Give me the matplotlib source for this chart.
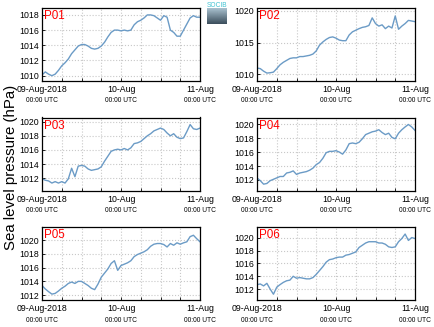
"""
Sea level pressure at six points (P01-P06), 09-Aug-2018 to 11-Aug-2018
"""
import numpy as np
import matplotlib
matplotlib.use('Agg')
import matplotlib.pyplot as plt
from matplotlib.ticker import MultipleLocator, FixedLocator

plt.rcParams['font.family'] = ['Liberation Sans', 'DejaVu Sans']

# hours since 09-Aug-2018 00:00 UTC
hours = list(range(49))

p01 = [1010.1, 1010.5, 1010.2, 1010.0, 1010.2, 1010.7, 1011.3, 1011.7, 1012.2, 1012.9,
       1013.4, 1013.9, 1014.1, 1014.1, 1013.9, 1013.6, 1013.5, 1013.6, 1013.9, 1014.4,
       1015.1, 1015.7, 1016.0, 1016.0, 1015.9, 1016.0, 1015.9, 1016.0, 1016.7, 1017.1,
       1017.3, 1017.6, 1018.0, 1018.0, 1017.9, 1017.6, 1017.3, 1017.9, 1017.7, 1016.0,
       1015.7, 1015.2, 1015.2, 1016.0, 1016.8, 1017.6, 1017.9, 1017.7, 1017.7]
p02 = [1011.0, 1010.9, 1010.5, 1010.2, 1010.25, 1010.35, 1010.9, 1011.5, 1011.9, 1012.2,
       1012.5, 1012.6, 1012.6, 1012.8, 1012.8, 1012.9, 1013.0, 1013.2, 1013.7, 1014.6,
       1015.1, 1015.5, 1015.8, 1015.9, 1015.7, 1015.4, 1015.3, 1015.3, 1016.2, 1016.7,
       1016.95, 1017.2, 1017.4, 1017.5, 1017.7, 1018.9, 1018.0, 1017.6, 1017.8, 1017.2,
       1017.6, 1017.3, 1019.2, 1017.1, 1017.6, 1018.0, 1018.5, 1018.4, 1018.3]
p03 = [1011.9, 1011.7, 1011.6, 1011.3, 1011.5, 1011.3, 1011.5, 1011.3, 1011.9, 1013.4,
       1012.2, 1013.7, 1013.8, 1013.7, 1013.3, 1013.1, 1013.2, 1013.3, 1013.6, 1014.4,
       1015.1, 1015.8, 1016.0, 1016.1, 1016.0, 1016.2, 1016.0, 1016.3, 1016.9, 1017.0,
       1017.2, 1017.6, 1018.0, 1018.3, 1018.7, 1018.9, 1019.1, 1018.9, 1018.4, 1018.0,
       1018.3, 1017.8, 1017.6, 1017.7, 1018.6, 1019.6, 1019.0, 1018.9, 1019.1]
p04 = [1012.3, 1011.9, 1011.4, 1011.5, 1011.9, 1012.1, 1012.3, 1012.5, 1012.5, 1013.0,
       1013.1, 1013.3, 1012.8, 1013.0, 1013.1, 1013.2, 1013.4, 1013.7, 1014.2, 1014.5,
       1015.1, 1015.9, 1016.1, 1016.1, 1016.2, 1016.0, 1015.7, 1016.3, 1017.2, 1017.3,
       1017.2, 1017.4, 1017.9, 1018.5, 1018.7, 1018.9, 1019.0, 1019.2, 1018.8, 1018.5,
       1018.7, 1018.1, 1017.9, 1018.7, 1019.2, 1019.6, 1019.95, 1019.6, 1019.1]
p05 = [1013.4, 1012.9, 1012.5, 1012.15, 1012.25, 1012.6, 1013.0, 1013.3, 1013.7, 1013.9,
       1013.7, 1014.0, 1014.0, 1013.7, 1013.4, 1013.0, 1012.8, 1013.6, 1014.6, 1015.2,
       1015.8, 1016.6, 1017.0, 1015.6, 1016.3, 1016.5, 1016.7, 1017.0, 1017.6, 1017.9,
       1018.1, 1018.3, 1018.6, 1019.1, 1019.4, 1019.5, 1019.5, 1019.35, 1019.0, 1019.5,
       1019.25, 1019.6, 1019.4, 1019.6, 1019.75, 1020.5, 1020.7, 1020.2, 1019.75]
p06 = [1012.7, 1012.8, 1012.5, 1012.9, 1012.0, 1011.2, 1012.3, 1012.7, 1013.05, 1013.3,
       1013.4, 1014.0, 1013.7, 1013.8, 1013.7, 1013.6, 1013.6, 1013.8, 1014.3, 1014.9,
       1015.5, 1016.2, 1016.6, 1016.7, 1016.9, 1017.0, 1017.0, 1017.3, 1017.4, 1017.6,
       1017.8, 1018.5, 1018.85, 1019.2, 1019.4, 1019.4, 1019.4, 1019.2, 1019.2, 1019.0,
       1018.6, 1018.5, 1018.6, 1019.4, 1019.9, 1020.6, 1019.6, 1020.05, 1019.9]

names = ['P01', 'P02', 'P03', 'P04', 'P05', 'P06']
series = [p01, p02, p03, p04, p05, p06]
ylims = [(1009.3, 1018.95), (1008.95, 1020.5), (1010.2, 1020.6),
         (1010.45, 1020.95), (1011.25, 1021.9), (1010.25, 1021.7)]
ysteps = [2, 5, 2, 2, 2, 2]

date_labels = ['09-Aug-2018', '10-Aug', '11-Aug']
time_labels = ['00:00 UTC', '00:00 UTC', '00:00 UTC']

W, H = 434, 327
fig = plt.figure(figsize=(W / 100, H / 100), dpi=100)

lefts = [42 / W, 257 / W]
bottoms = [1 - 81 / H, 1 - 190.8 / H, 1 - 300.3 / H]
aw, ah = 158 / W, 73.3 / H

for i, (name, vals) in enumerate(zip(names, series)):
    ax = fig.add_axes([lefts[i % 2], bottoms[i // 2], aw, ah])
    ax.plot(hours, vals, color='#6b9bc6', lw=1.0)
    ax.set_xlim(0, 48)
    ax.set_ylim(*ylims[i])
    ax.yaxis.set_major_locator(MultipleLocator(ysteps[i]))
    ax.xaxis.set_major_locator(FixedLocator([0, 24, 48]))
    ax.xaxis.set_minor_locator(MultipleLocator(6))
    ax.set_xticklabels(date_labels)
    ax.grid(True, which='both', axis='x', color='#c8c8c8', ls=':', lw=0.8)
    ax.grid(True, which='major', axis='y', color='#c8c8c8', ls=':', lw=0.8)
    ax.tick_params(axis='both', which='both', direction='in', length=2,
                   labelsize=6.3, width=0.6, pad=2)
    ax.tick_params(axis='x', pad=3)
    for s in ax.spines.values():
        s.set_linewidth(0.9)
    for x, lab in zip([0, 24, 48], time_labels):
        ax.text(x, -0.27, lab, transform=ax.get_xaxis_transform(),
                ha='center', va='center', fontsize=4.8)
    ax.text(0.015, 0.97, name, transform=ax.transAxes, ha='left', va='top',
            color='red', fontsize=8.4)

fig.text(11 / W, 1 - 167 / H, 'Sea level pressure (hPa)', rotation=90,
         ha='center', va='center', fontsize=10.8)

# small logo
lax = fig.add_axes([207 / W, 1 - 24 / H, 20 / W, 16 / H])
grad = np.linspace(0, 1, 40).reshape(-1, 1)
cmap = matplotlib.colors.LinearSegmentedColormap.from_list('logo', ['#a9c1cf', '#3c4e5c'])
lax.imshow(grad, aspect='auto', cmap=cmap)
lax.axis('off')
fig.text(217 / W, 1 - 5.5 / H, 'SOCIB', ha='center', va='center',
         fontsize=4.8, color='#3fc2d2')

plt.savefig('out.png', dpi=100)
